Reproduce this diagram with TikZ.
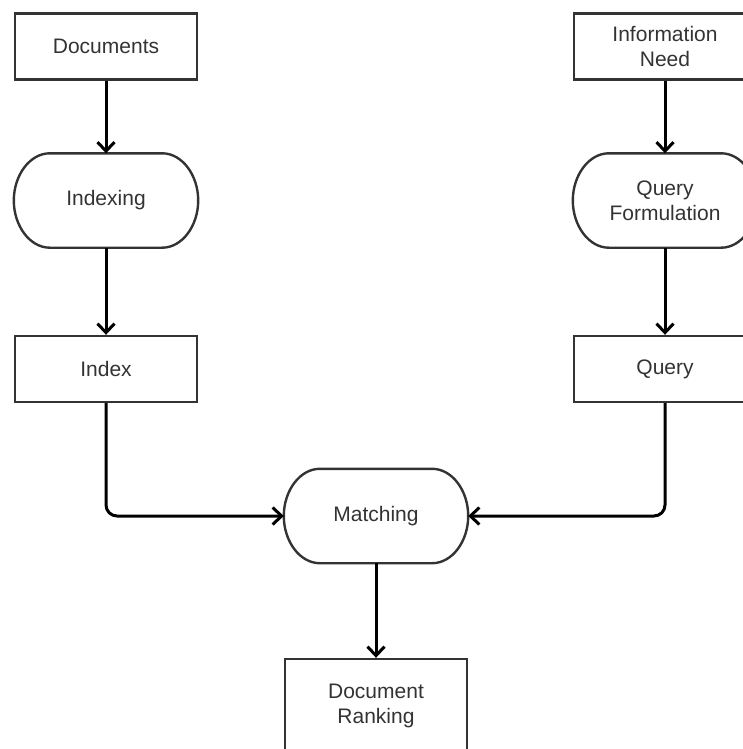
\documentclass[tikz,border=0pt]{standalone}
\usepackage{fontspec}
\setmainfont{Liberation Sans}
\usetikzlibrary{arrows.meta,calc}
\definecolor{ink}{HTML}{333333}
\begin{document}
\begin{tikzpicture}[x=1pt,y=-1pt,
  box/.style={draw=ink, line width=2.4pt, minimum width=182pt, minimum height=66pt,
    inner sep=0pt, align=center, text=ink, font=\fontsize{21}{25}\selectfont},
  pill/.style={box, draw=none, minimum height=92pt},
  pilledge/.style={draw=ink, line width=2.4pt},
  flow/.style={line width=3pt, -{Straight Barb[length=9pt,width=17pt]}, rounded corners=11pt}
]
\useasboundingbox (0,0) rectangle (743,749);
\clip (0,0) rectangle (743,749);

% document side
\node[box]  (docs)  at (106,46.5)  {Documents};
\node[pill] (idx)   at (106,200.5) {Indexing};
\node[box]  (index) at (106,369)   {Index};

% query side
\node[box]  (need)  at (665,46.5)  {Information\\Need};
\node[pill] (qf)    at (665,200.5) {Query\\Formulation};
\node[box]  (query) at (665,369)   {Query};

% matching and result
\node[pill] (match) at (376,516)   {Matching};
\node[box, minimum height=93pt] (rank) at (376,705.5) {Document\\Ranking};

% stadium outlines with elliptical ends (36 x 46 quarter ellipses)
\foreach \n in {idx,qf,match}{
  \draw[pilledge]
    ($(\n.north west)+(36,0)$) -- ($(\n.north east)+(-36,0)$)
    .. controls ($(\n.north east)+(-16.1,0)$) and ($(\n.east)+(0,-25.4)$) .. (\n.east)
    .. controls ($(\n.east)+(0,25.4)$) and ($(\n.south east)+(-16.1,0)$) .. ($(\n.south east)+(-36,0)$)
    -- ($(\n.south west)+(36,0)$)
    .. controls ($(\n.south west)+(16.1,0)$) and ($(\n.west)+(0,25.4)$) .. (\n.west)
    .. controls ($(\n.west)+(0,-25.4)$) and ($(\n.north west)+(16.1,0)$) .. cycle;
}

% connectors
\draw[flow] (docs) -- (idx);
\draw[flow] (idx) -- (index);
\draw[flow] (need) -- (qf);
\draw[flow] (qf) -- (query);
\draw[flow] (index.south) |- (match.west);
\draw[flow] (query.south) |- (match.east);
\draw[flow] (match) -- (rank);
\end{tikzpicture}
\end{document}
